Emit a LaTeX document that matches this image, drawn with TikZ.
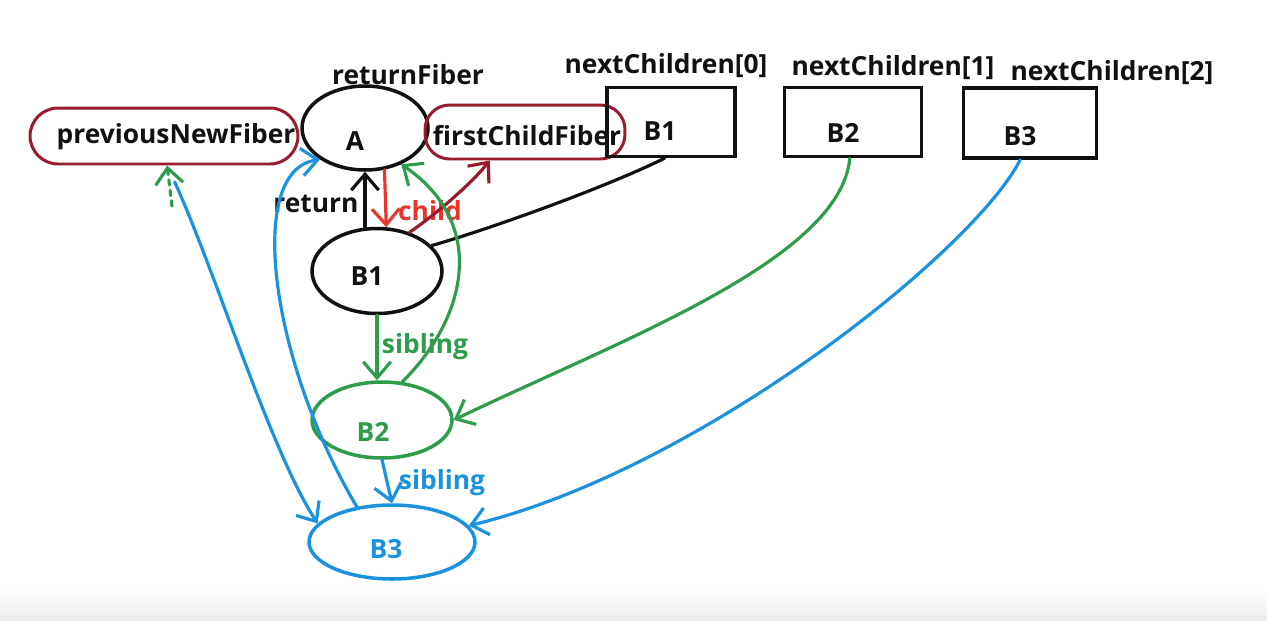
\documentclass[tikz,border=0pt]{standalone}
\usepackage{fontspec}
\setmainfont{Open Sans}
\usetikzlibrary{arrows.meta,shapes.geometric}
\definecolor{Ink}{HTML}{111111}
\definecolor{Wine}{HTML}{9A1B2E}
\definecolor{Scarlet}{HTML}{E8352B}
\definecolor{Leaf}{HTML}{2E9C4A}
\definecolor{Sky}{HTML}{1A92DE}
\definecolor{Band}{HTML}{EDEDED}
\tikzset{
  txt/.style={font=\bfseries\fontsize{15}{17}\selectfont,text=Ink,inner sep=1pt},
  fiber/.style={ellipse,draw=Ink,line width=2pt,inner sep=0pt},
  fibergreen/.style={fiber,draw=Leaf},
  fiberblue/.style={fiber,draw=Sky},
  slot/.style={rectangle,draw=Ink,line width=2pt,inner sep=0pt,minimum height=1.38cm},
  loopred/.style={rectangle,draw=Wine,line width=1.7pt,rounded corners=16pt,inner sep=0pt},
  link/.style={line width=1.8pt,draw=Ink,line cap=round},
  arrow/.style={link,-{Straight Barb[length=3.2mm,width=5.5mm]}},
  greenArrow/.style={arrow,draw=Leaf},
  blueArrow/.style={arrow,draw=Sky},
  redArrow/.style={arrow,draw=Scarlet},
  wineArrow/.style={arrow,draw=Wine}
}
\begin{document}
\begin{tikzpicture}[x=0.02cm,y=-0.02cm]
\useasboundingbox (0,0) rectangle (1267,620);
\fill[white] (0,0) rectangle (1267,620);
\shade[top color=white,bottom color=Band] (0,588) rectangle (1267,620);

\node[fiber,minimum width=2.52cm,minimum height=1.68cm] (A) at (365,128) {};
\node[txt] (Atxt) at (355,141) {A};
\node[txt] (rf) at (408,75) {returnFiber};
\node[loopred,minimum width=5.36cm,minimum height=1.12cm] (prev) at (164,136) {};
\node[txt,text=Ink] (prevtxt) at (176,137) {previousNewFiber};
\node[loopred,minimum width=4cm,minimum height=1.08cm,rounded corners=14pt] (first) at (525,132) {};
\node[txt] (firsttxt) at (527,136) {firstChildFiber};

\node[slot,minimum width=2.56cm] (slot0) at (671,122) {};
\node[slot,minimum width=2.74cm] (slot1) at (853,122) {};
\node[slot,minimum width=2.66cm,minimum height=1.4cm] (slot2) at (1030,123) {};
\node[txt] (s0txt) at (660,131) {B1};
\node[txt] (s1txt) at (843,133) {B2};
\node[txt] (s2txt) at (1020,136) {B3};
\node[txt] (nc0) at (666,66) {nextChildren[0]};
\node[txt] (nc1) at (893,68) {nextChildren[1]};
\node[txt] (nc2) at (1112,73) {nextChildren[2]};

\node[fiber,minimum width=2.6cm,minimum height=1.7cm] (B1) at (377,271) {};
\node[fibergreen,minimum width=2.8cm,minimum height=1.52cm] (B2) at (382,420) {};
\node[fiberblue,minimum width=3.32cm,minimum height=1.48cm] (B3) at (392,542) {};
\node[txt] (B1txt) at (367,276) {B1};
\node[txt,text=Leaf] (B2txt) at (373,432) {B2};
\node[txt,text=Sky] (B3txt) at (386,549) {B3};

\node[txt] (ret) at (316,204) {return};
\node[txt,text=Scarlet] (chl) at (430,211) {child};
\node[txt,text=Leaf] (sib1) at (425,347) {sibling};
\node[txt,text=Sky] (sib2) at (442,483) {sibling};

\draw[arrow] (B1.north -| A.south) -- (A.south);
\draw[redArrow] (A.-65) -- (B1.78);
\draw[wineArrow] (B1.50) .. controls (435,215) and (470,185) .. (first.-141);
\draw[link] (B1.25) .. controls (480,232) and (600,190) .. (slot0.-100);
\draw[greenArrow] (B1.south) -- (B1.south |- B2.north);
\draw[greenArrow] (B2.62) .. controls (465,320) and (490,225) .. (A.-45);
\draw[greenArrow] (slot1.-95) .. controls (840,260) and (620,340) .. (B2.east);
\coordinate (gtail) at (172,206);
\draw[greenArrow,dashed] (gtail) -- (prev.-84);
\draw[blueArrow] (B2.south) -- (B3.north);
\draw[blueArrow] (slot2.-105) .. controls (975,250) and (700,470) .. (B3.12);
\draw[blueArrow] (B3.135) .. controls (270,360) and (245,170) .. (A.215);
\draw[blueArrow,shorten <=0.36cm] (prev.-84) .. controls (215,270) and (270,450) .. (B3.166);
\end{tikzpicture}
\end{document}
